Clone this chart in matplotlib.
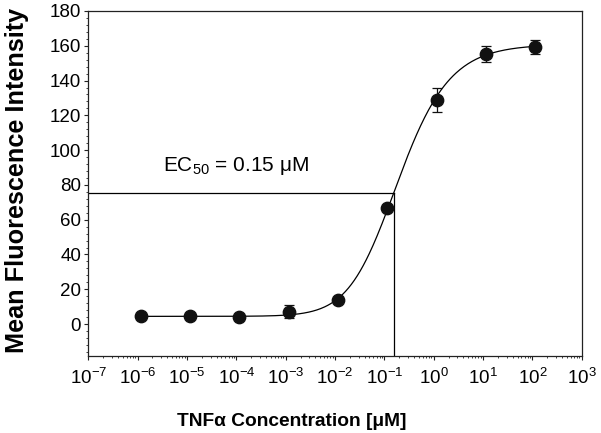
import numpy as np
import matplotlib
matplotlib.use('Agg')
import matplotlib.pyplot as plt
from matplotlib.ticker import LogLocator, MultipleLocator, NullFormatter

plt.rcParams['font.family'] = ['Liberation Sans', 'DejaVu Sans']
plt.rcParams['mathtext.fontset'] = 'custom'
plt.rcParams['mathtext.rm'] = 'Liberation Sans'
plt.rcParams['mathtext.it'] = 'Liberation Sans:italic'
plt.rcParams['mathtext.bf'] = 'Liberation Sans:bold'

# Measured points (concentration in uM, mean fluorescence, error)
conc = [1.15e-6, 1.15e-5, 1.15e-4, 1.15e-3, 1.15e-2, 1.15e-1, 1.15e0, 1.15e1, 1.15e2]
mfi = [4.4, 4.5, 4.3, 7.0, 14.0, 66.8, 128.8, 155.5, 159.4]
err = [0.8, 0.6, 0.7, 3.8, 1.2, 1.5, 6.9, 4.6, 4.2]

# Fitted dose-response curve (5-parameter logistic)
fit_bottom = 4.4
fit_top = 160.8
fit_c = 0.085
fit_hill = 0.75
fit_asym = 1.6

ec50 = 0.155
ec50_label = r'EC$_{50}$ = 0.15 μM'


def logistic5(x):
    return fit_bottom + (fit_top - fit_bottom) / (1 + (fit_c / x) ** fit_hill) ** fit_asym


fig = plt.figure(figsize=(6.01, 4.33), dpi=100)
ax = fig.add_axes([0.1469, 0.1778, 0.821, 0.7968])

# Curve
xs = np.logspace(np.log10(conc[0]), np.log10(conc[-1]), 400)
ax.plot(xs, logistic5(xs), color='black', lw=0.9, zorder=2)

# EC50 guide lines
ec50_y = logistic5(ec50)
ax.plot([1e-7, ec50], [ec50_y, ec50_y], color='black', lw=0.9, zorder=2)
ax.plot([ec50, ec50], [-18.4, ec50_y], color='black', lw=0.9, zorder=2)

# Data points with error bars
ax.errorbar(conc, mfi, yerr=err, fmt='o', color='#111111', ms=8.9,
            ecolor='#111111', elinewidth=0.9, capsize=3.8, capthick=0.9, zorder=3)

ax.text(3.27e-6, 88, ec50_label, fontsize=15, ha='left', va='baseline')

ax.set_xscale('log')
ax.set_xlim(1e-7, 1e3)
ax.set_ylim(-18.4, 180)

ax.xaxis.set_major_locator(LogLocator(base=10, numticks=20))
ax.xaxis.set_minor_locator(LogLocator(base=10, subs=np.arange(2, 10), numticks=20))
ax.xaxis.set_minor_formatter(NullFormatter())
ax.set_yticks(np.arange(0, 181, 20))
ax.yaxis.set_minor_locator(MultipleLocator(4))

ax.tick_params(axis='both', which='major', direction='out', length=3.2, width=0.8,
               labelsize=13.5, color='#222222')
ax.tick_params(axis='both', which='minor', direction='out', length=1.6, width=0.6,
               color='#222222')
ax.tick_params(axis='x', which='major', pad=5)
ax.tick_params(axis='y', which='major', pad=2)

for spine in ax.spines.values():
    spine.set_linewidth(0.9)
    spine.set_color('#222222')

ax.set_xlabel('TNFα Concentration [μM]', fontsize=13.8, fontweight='bold', va='center')
ax.xaxis.set_label_coords(0.413, -0.19)
ax.set_ylabel('Mean Fluorescence Intensity', fontsize=18.2, fontweight='bold', va='center')
ax.yaxis.set_label_coords(-0.1435, 0.51)

fig.savefig('out.png', dpi=100)
